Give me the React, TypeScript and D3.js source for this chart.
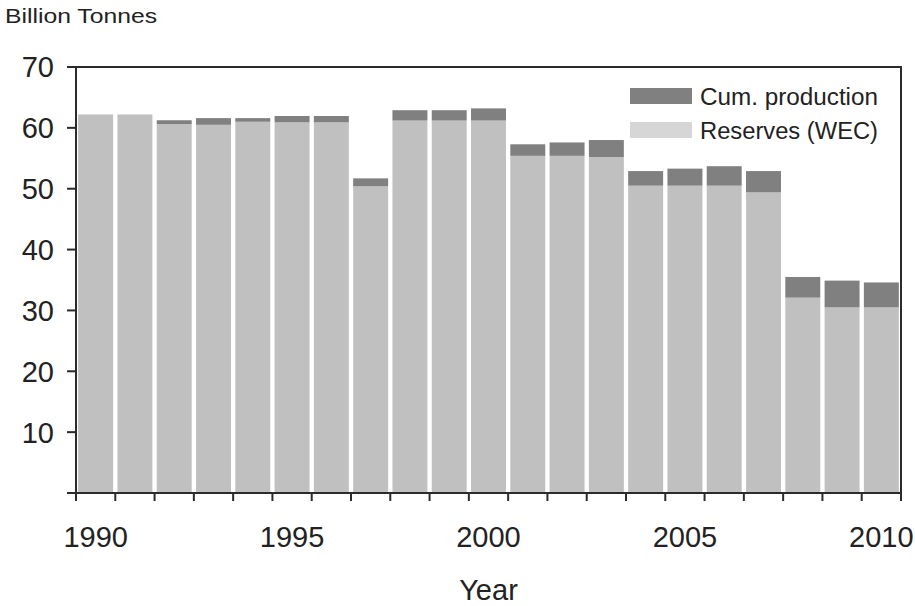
import React from "react";
import * as d3 from "d3";

const years: number[] = [1990, 1991, 1992, 1993, 1994, 1995, 1996, 1997, 1998, 1999, 2000, 2001, 2002, 2003, 2004, 2005, 2006, 2007, 2008, 2009, 2010];
const reserves: number[] = [62.2, 62.2, 60.6, 60.5, 61.0, 60.9, 60.9, 50.4, 61.2, 61.2, 61.2, 55.4, 55.4, 55.2, 50.5, 50.5, 50.5, 49.4, 32.1, 30.5, 30.5];
const cumProduction: number[] = [0, 0, 0.65, 1.1, 0.6, 1.05, 1.05, 1.3, 1.7, 1.7, 2.0, 1.9, 2.2, 2.8, 2.4, 2.8, 3.2, 3.5, 3.4, 4.4, 4.1];
const yTicks: number[] = [10, 20, 30, 40, 50, 60, 70];
const xLabels: number[] = [1990, 1995, 2000, 2005, 2010];
const legendItems = [
  { label: "Cum. production", key: "prod" },
  { label: "Reserves (WEC)", key: "res" },
];

const W = 915;
const H = 606;
const left = 76;
const right = 901;
const top = 67;
const bottom = 493;

const LIGHT = "#c0c0c0";
const DARK = "#808080";
const LEGEND_LIGHT = "#d6d6d6";
const AXIS = "#2b2b2b";
const TEXT = "#222";
const FONT = "Liberation Sans, Arial, sans-serif";

export default function App() {
  const x = d3.scaleBand<number>().domain(years).range([left, right]).paddingInner(0.11).paddingOuter(0.055);
  const y = d3.scaleLinear().domain([0, 70]).range([bottom, top]);
  const step = x.step();
  const boundaries = d3.range(years.length + 1).map((i) => left + i * step);

  return (
    <div style={{ position: "absolute", left: 0, top: 0 }}>
      <svg width={W} height={H} style={{ display: "block", background: "#fff" }}>
        <text x={5} y={23} fontFamily={FONT} fontSize={21} fill={TEXT} textLength={152} lengthAdjust="spacingAndGlyphs">
          Billion Tonnes
        </text>

        {years.map((yr, i) => {
          const x0 = x(yr)!;
          const bw = x.bandwidth();
          const r = reserves[i];
          const p = cumProduction[i];
          return (
            <g key={yr}>
              <rect x={x0} y={y(r)} width={bw} height={y(0) - y(r)} fill={LIGHT} />
              {p > 0 && <rect x={x0} y={y(r + p)} width={bw} height={y(r) - y(r + p)} fill={DARK} />}
            </g>
          );
        })}

        {/* frame */}
        <rect x={left} y={top} width={right - left} height={bottom - top} fill="none" stroke={AXIS} strokeWidth={2} />

        {/* y ticks */}
        {[0, ...yTicks].map((t) => (
          <line key={"yt" + t} x1={left - 9} x2={left} y1={y(t)} y2={y(t)} stroke={AXIS} strokeWidth={2} />
        ))}
        {yTicks.map((t) => (
          <text key={"yl" + t} x={54} y={y(t)} dy="0.36em" textAnchor="end" fontFamily={FONT} fontSize={29} fill={TEXT}>
            {t}
          </text>
        ))}

        {/* x ticks */}
        {boundaries.map((bx, i) => (
          <line key={"xt" + i} x1={bx} x2={bx} y1={bottom} y2={bottom + 8} stroke={AXIS} strokeWidth={2} />
        ))}
        {xLabels.map((yr) => (
          <text key={"xl" + yr} x={x(yr)! + x.bandwidth() / 2} y={547} textAnchor="middle" fontFamily={FONT} fontSize={29} fill={TEXT}>
            {yr}
          </text>
        ))}

        <text x={(left + right) / 2} y={600} textAnchor="middle" fontFamily={FONT} fontSize={29} fill={TEXT}>
          Year
        </text>

        {/* legend */}
        {legendItems.map((it, i) => (
          <g key={it.key} transform={`translate(630, ${88 + i * 34})`}>
            <rect x={0} y={0} width={62} height={16} fill={it.key === "prod" ? DARK : LEGEND_LIGHT} />
            <text x={70} y={17} fontFamily={FONT} fontSize={23} fill={TEXT} textLength={178} lengthAdjust="spacingAndGlyphs">
              {it.label}
            </text>
          </g>
        ))}
      </svg>
    </div>
  );
}
